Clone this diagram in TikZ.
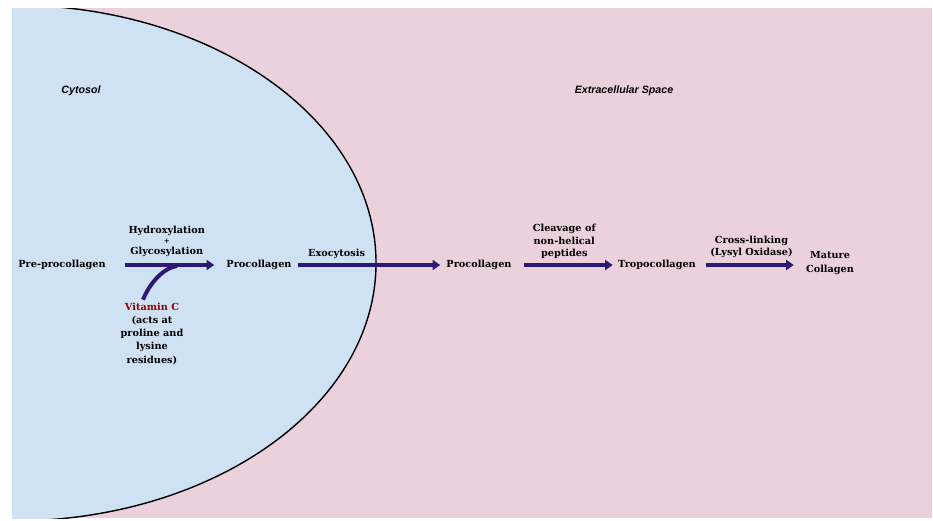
\documentclass[tikz,border=0pt]{standalone}
\usepackage{fontspec}
\setmainfont{DejaVu Serif}
\newfontfamily\regionfont{Liberation Sans}
\usetikzlibrary{arrows.meta}
\definecolor{cytoblue}{RGB}{207,226,243}
\definecolor{ecmpink}{RGB}{234,209,220}
\definecolor{pathway}{RGB}{46,24,118}
\definecolor{vitred}{RGB}{153,0,0}
\tikzset{
  region/.style={font=\regionfont\bfseries\itshape\fontsize{9.1}{11}\selectfont},
  stage/.style={font=\bfseries\fontsize{8.3}{11.2}\selectfont, align=center, inner sep=0pt},
  steplabel/.style={font=\bfseries\fontsize{8.3}{10.8}\selectfont, align=center, inner sep=0pt},
  link/.style={draw=pathway, line width=3.4pt},
  flow/.style={link, -{Triangle[length=6.5pt, width=8.5pt]}},
  membrane/.style={draw=black, line width=1.2pt}
}
\begin{document}
\begin{tikzpicture}[x=0.03cm, y=-0.03cm]
      \useasboundingbox (0,0) rectangle (933,520);
      \fill[ecmpink] (12,8) rectangle (932,518);
      \begin{scope}
        \clip (12,8) rectangle (932,518);
        \fill[cytoblue] (12,263) ellipse [x radius=10.92cm, y radius=7.74cm];
        \draw[membrane] (12,263) ellipse [x radius=10.92cm, y radius=7.74cm];
      \end{scope}
      \node[region] (cytosol) at (81,91) {Cytosol};
      \node[region] (extra) at (624,91) {Extracellular Space};
      \draw
        (62,265) node[stage, minimum width=2.7cm] (pre){Pre-procollagen}
        (259,265) node[stage, minimum width=1.95cm] (pro1){Procollagen}
        (479,265) node[stage, minimum width=1.95cm] (pro2){Procollagen}
        (657,265) node[stage, minimum width=2.4cm] (tropo){Tropocollagen}
        (830,263) node[stage, minimum width=1.41cm] (mature){Mature\\Collagen};
      \node[stage, anchor=north] (vitc) at (152,303)
        {\textcolor{vitred}{Vitamin C}\\(acts at\\proline and\\lysine\\residues)};
      \coordinate (join) at (177,266);
      \begin{scope}[flow]
        \draw[shorten <=0.54cm, shorten >=0.36cm] (pre) to
          node[steplabel, midway, above=0.18cm] (hydrox){Hydroxylation\\[-2pt]{\fontsize{6}{6}\selectfont+}\\[-1pt]Glycosylation} (pro1);
        \draw[shorten <=0.18cm, shorten >=0.18cm] (pro1) to
          node[steplabel, pos=0.29, above=0.12cm] (exo){Exocytosis} (pro2);
        \draw[shorten <=0.36cm, shorten >=0.12cm] (pro2) to
          node[steplabel, midway, above=0.12cm] (cleave){Cleavage of\\non-helical\\peptides} (tropo);
        \draw[shorten <=0.27cm, shorten >=0.36cm] (tropo.east) to
          node[steplabel, midway, above=0.15cm] (cross){Cross-linking\\(Lysyl Oxidase)} (tropo.east -| mature.west);
      \end{scope}
      \draw[link] ([xshift=-0.27cm, yshift=0.1cm]vitc.north) .. controls +(0.2cm,0.5cm) and +(-0.4cm,-0.05cm) .. (join);
    \end{tikzpicture}
\end{document}
